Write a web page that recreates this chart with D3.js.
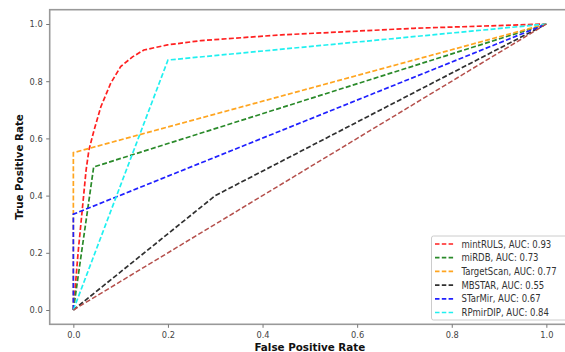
<!DOCTYPE html>
<meta charset="utf-8">
<script src="https://d3js.org/d3.v7.min.js"></script>
<style>
  body { margin: 0; background: #fff; }
  text { font-family: "DejaVu Sans", sans-serif; }
</style>
<div id="my_dataviz"></div>
<script>

// ROC curves: [fpr, tpr]
var mintRULS = [[0,0],[0.01,0.2],[0.027,0.49],[0.033,0.56],[0.044,0.63],[0.058,0.71],[0.079,0.793],[0.1,0.851],[0.125,0.885],[0.149,0.909],[0.199,0.927],[0.27,0.942],[0.44,0.962],[0.72,0.985],[1,1]];
var miRDB = [[0,0],[0.043,0.5],[1,1]];
var targetScan = [[0,0],[0,0.55],[1,1]];
var mbstar = [[0,0],[0.3,0.4],[1,1]];
var starMir = [[0,0],[0,0.335],[1,1]];
var rpmirdip = [[0,0],[0.2,0.874],[1,1]];
var chance = [[0,0],[1,1]];

var names = ["mintRULS, AUC: 0.93", "miRDB, AUC: 0.73", "TargetScan, AUC: 0.77",
             "MBSTAR, AUC: 0.55", "STarMir, AUC: 0.67", "RPmirDIP, AUC: 0.84"];
var colors = ["#ff2020", "#2a8a2a", "#ffa520", "#303030", "#2020ff", "#20f0f0"];
var xTicks = [0, 0.2, 0.4, 0.6, 0.8, 1.0];
var yTicks = [0, 0.2, 0.4, 0.6, 0.8, 1.0];

var W = 565, H = 352;
var svg = d3.select("#my_dataviz")
  .append("svg")
    .attr("width", W)
    .attr("height", H);

// the source picture is squeezed a bit sideways, so texts get narrowed
function squeeze(sel, k) {
  sel.each(function() {
    var len = this.getComputedTextLength();
    d3.select(this).attr("textLength", len * k).attr("lengthAdjust", "spacingAndGlyphs");
  });
}

// plot frame is wider than the picture, right edge gets cut off
var x = d3.scaleLinear().domain([-0.05, 1.05]).range([49.7, 570]);
var y = d3.scaleLinear().domain([-0.05, 1.05]).range([324.3, 9.7]);

// frame
svg.append("rect")
  .attr("x", x(-0.05)).attr("y", y(1.05))
  .attr("width", x(1.05) - x(-0.05)).attr("height", y(-0.05) - y(1.05))
  .style("fill", "none").style("stroke", "#999").style("stroke-width", 1.6);

// axes
var xAxis = svg.append("g")
  .attr("transform", "translate(0," + y(-0.05) + ")")
  .call(d3.axisBottom(x).tickValues(xTicks).tickFormat(d3.format(".1f")).tickSize(3.5).tickPadding(3.5));
var yAxis = svg.append("g")
  .attr("transform", "translate(" + x(-0.05) + ",0)")
  .call(d3.axisLeft(y).tickValues(yTicks).tickFormat(d3.format(".1f")).tickSize(3.5).tickPadding(3.5));
[xAxis, yAxis].forEach(function(a) {
  a.select(".domain").remove();
  a.selectAll("line").style("stroke", "#777");
  a.selectAll("text").style("font-size", "9.2px").style("fill", "#444")
    .style("font-family", "DejaVu Sans, sans-serif")
    .call(squeeze, 0.9);
});

svg.append("text")
  .attr("x", (x(0) + x(1)) / 2).attr("y", 350.5)
  .attr("text-anchor", "middle")
  .style("font-size", "11px").style("font-weight", "bold").style("fill", "#111")
  .text("False Positive Rate")
  .call(squeeze, 0.94);
svg.append("text")
  .attr("transform", "translate(22.5," + (y(0) + y(1)) / 2 + ") rotate(-90)")
  .attr("text-anchor", "middle")
  .style("font-size", "10.3px").style("font-weight", "bold").style("fill", "#111")
  .text("True Positive Rate");

var line = d3.line()
  .x(function(d) { return x(d[0]); })
  .y(function(d) { return y(d[1]); });

var series = [mintRULS, miRDB, targetScan, mbstar, starMir, rpmirdip];

// curves first, then the chance diagonal
series.forEach(function(s, i) {
  svg.append("path")
    .datum(s)
    .attr("d", line)
    .style("fill", "none")
    .style("stroke", colors[i])
    .style("stroke-width", 1.7)
    .style("stroke-dasharray", "5,2.3");
});
svg.append("path")
  .datum(chance)
  .attr("d", line)
  .style("fill", "none")
  .style("stroke", "#b5504c")
  .style("stroke-width", 1.5)
  .style("stroke-dasharray", "5,2.3");

// legend
var lg = svg.append("g").attr("transform", "translate(431.5,236)");
lg.append("rect")
  .attr("width", 150).attr("height", 84).attr("rx", 2)
  .style("fill", "#fff").style("fill-opacity", 0.85)
  .style("stroke", "#ccc").style("stroke-width", 1);
names.forEach(function(n, i) {
  var yy = 8 + i * 13.7;
  lg.append("line")
    .attr("x1", 3.5).attr("x2", 22).attr("y1", yy).attr("y2", yy)
    .style("stroke", colors[i]).style("stroke-width", 1.7)
    .style("stroke-dasharray", "4.5,2.3");
  lg.append("text")
    .attr("x", 30).attr("y", yy + 3.5)
    .style("font-size", "9.8px").style("fill", "#333")
    .text(n)
    .call(squeeze, 0.87);
});

</script>
